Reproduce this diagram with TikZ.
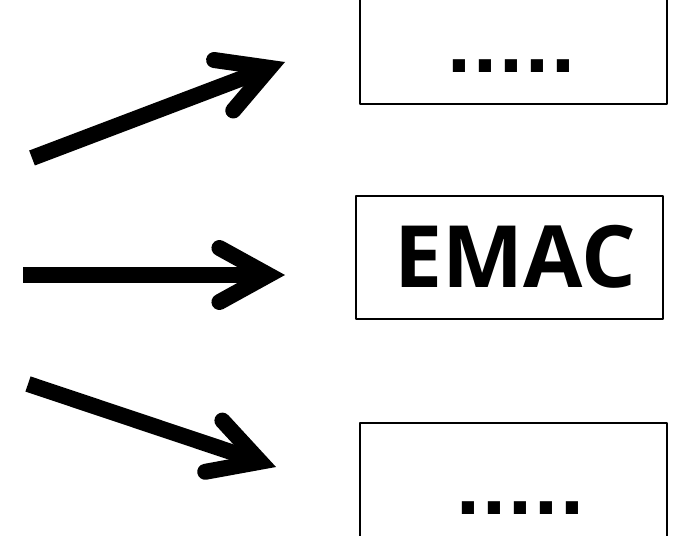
\documentclass[tikz,border=0pt]{standalone}
\usepackage{fontspec}
\setmainfont{Open Sans}
\newfontfamily\dotsfont[LetterSpace=2.5]{Liberation Sans}
\usetikzlibrary{arrows.meta}

\begin{document}
\begin{tikzpicture}[
  x=1pt,
  y=-1pt,
  line join=round,
  flowbox/.style={draw,line width=2pt,minimum width=307pt,minimum height=123pt,
    inner sep=0pt,text height=60pt,text depth=0pt,
    font=\fontsize{86}{86}\selectfont\bfseries},
  bigarrow/.style={line width=16pt,
    -{Straight Barb[length=49pt,width=54pt,line cap=round,line join=miter]}}
]
  \useasboundingbox (0,0) rectangle (676,535);

  % Boxes on the right; upper and lower run past the picture edge.
  \node[flowbox] (upper) at (513.5,42.5) {\dotsfont .....\hspace*{4pt}};
  \node[flowbox] (emac) at (509.5,257.5) {\hspace*{12pt}EMAC};
  \node[flowbox] (lower) at (513.5,484.5) {\hspace*{14pt}\dotsfont .....};

  % Free ends of the three arrows.
  \coordinate (upTail) at (32,158);
  \coordinate (upTip) at (285,62);
  \coordinate (midTail) at (23,275);
  \coordinate (midTip) at (285,275);
  \coordinate (lowTail) at (28,384);
  \coordinate (lowTip) at (276,467);

  \draw[bigarrow] (upTail) -- (upTip);
  \draw[bigarrow] (midTail) -- (midTip);
  \draw[bigarrow] (lowTail) -- (lowTip);
\end{tikzpicture}
\end{document}
